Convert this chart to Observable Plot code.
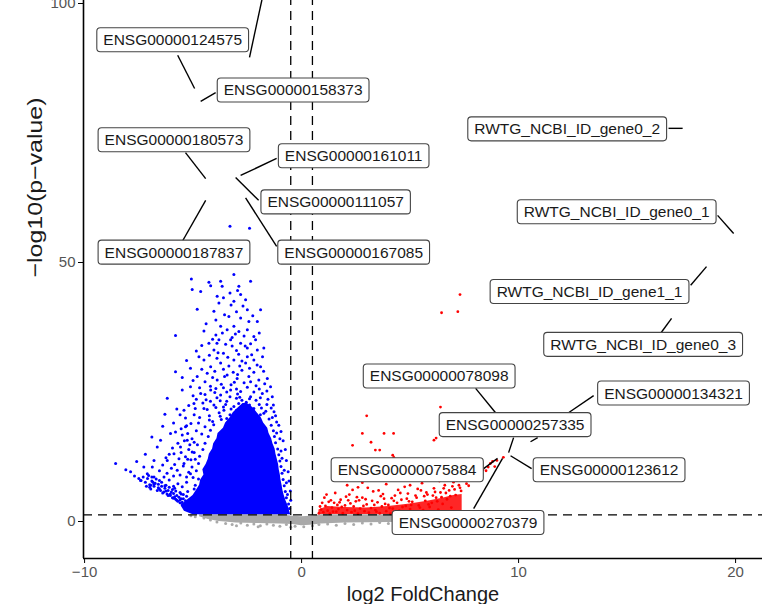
<!DOCTYPE html>
<html><head><meta charset="utf-8">
<script src="https://cdn.jsdelivr.net/npm/d3@7"></script>
<script src="https://cdn.jsdelivr.net/npm/@observablehq/plot@0.6"></script>
<style>body{margin:0;background:#fff;}</style>
</head><body><div id="chart"></div>
<script>
// ---- axes ----
const xDomain = [-10.05, 21.24];
const yDomain = [-7.14, 136.1];
const xTicks = [-10, 0, 10, 20];
const yTicks = [0, 50, 100];
const fcCut = [-0.5, 0.5];
const pCut = [1.3];
const xTitle = "log2 FoldChange";
const yTitle = "\u2212log10(p\u2212value)";

// ---- significant down (blue) points [log2FC, -log10 p] ----
const bluePts = [
[-5.08,46.8],[-5.04,44.8],[-4.65,44.4],[-4.27,46.2],[-4.19,45.5],[-3.73,46.4],[-3.66,45.4],[-3.12,47.7],[-2.89,45.4],[-2.35,46.4],
[-4.81,41.0],[-3.89,43.5],[-3.30,44.1],[-3.81,42.2],[-3.12,42.5],[-2.81,43.8],[-2.58,42.8],[-2.50,40.9],[-4.04,40.6],[-3.35,39.6],
[-2.81,39.3],[-2.43,38.6],[-2.04,38.6],[-1.89,40.9],[-3.73,37.7],[-3.43,37.0],[-3.12,37.7],[-2.89,36.7],[-2.50,37.0],[-2.20,35.7],
[-2.12,35.1],[-5.81,35.9],[-3.30,57.0],[-2.40,56.6],[-4.29,51.2],[-3.40,51.2],[-3.04,51.5],
[-4.73,31.8],[-4.27,34.4],[-4.04,33.1],[-3.81,35.1],[-3.27,35.1],[-2.81,34.4],[-2.50,33.5],[-2.04,33.1],[-1.74,33.5],[-4.50,31.2],
[-4.19,29.9],[-3.73,30.6],[-3.12,31.2],[-2.58,30.6],[-2.20,31.2],[-1.89,29.9],[-5.12,29.6],[-4.81,28.0],[-4.35,28.6],[-3.89,27.3],
[-3.43,28.3],[-2.97,27.6],[-2.43,28.0],[-1.97,27.3],[-1.58,27.6],[-5.81,28.9],[-1.43,26.0],
[-3.6,32.5],[-3.0,33.0],[-2.3,32.2],[-3.9,31.5],[-3.35,30.0],[-2.75,29.2],[-2.2,28.8],[-4.0,29.0],[-3.15,28.8],[-3.6,29.4],
[-2.5,31.8],[-4.45,27.0],[-3.7,26.5],[-2.65,26.8],[-2.1,26.2],[-3.25,26.4],[-4.2,26.1],[-1.75,29.0],[-2.9,32.3],[-4.6,34.0],
[-3.5,34.2],[-2.65,35.8],[-3.95,36.0],[-3.2,35.5],
[-4.4,38.2],[-3.95,38.9],[-3.55,39.9],[-3.0,40.5],[-2.7,41.6],[-2.25,39.7],[-3.25,41.8],[-3.6,43.2],[-2.95,44.6],[-4.5,36.8],
[-4.1,35.2],[-3.65,36.4],[-3.05,36.2],[-2.35,34.3],[-1.95,36.4],[-1.8,31.8],[-2.05,30.2],[-2.4,29.6],[-2.85,30.0],[-3.4,31.7],
[-3.85,32.6],[-4.25,32.1],[-4.6,29.4],[-4.1,27.8],[-3.55,28.0],[-2.95,28.4],[-2.35,27.0],[-1.6,25.2],[-1.7,26.6],[-2.75,31.0],
[-3.2,33.9],[-2.6,33.9],[-3.9,34.4],[-4.85,32.9],[-5.3,31.1],[-5.0,27.2],[-5.5,27.8],[-4.7,25.8],
[-5.50,25.4],[-5.12,26.0],[-4.65,24.7],[-4.19,25.4],[-3.73,24.4],[-3.27,25.4],[-2.81,25.1],[-2.35,24.1],[-1.81,24.7],[-1.35,24.1],
[-6.19,23.8],[-5.42,21.5],[-4.96,22.8],[-4.50,21.8],[-4.04,22.5],[-3.58,21.5],[-3.12,22.2],[-2.66,21.2],[-2.20,21.8],[-1.74,20.9],
[-1.27,21.2],[-4.4,23.5],[-3.9,23.9],[-3.45,23.2],[-3.0,23.8],[-2.55,23.0],[-2.1,23.4],[-1.6,22.6],[-4.25,20.4],[-3.8,21.0],
[-3.3,20.6],[-2.9,20.5],[-2.45,20.2],[-2.0,20.0],[-1.5,19.8],[-4.7,20.1],[-4.85,23.6],[-5.2,22.4],[-3.6,25.8],[-2.95,24.6],
[-2.5,25.9],[-4.0,24.9],[-3.1,26.9],[-1.95,25.6],[-4.55,22.9],[-1.3,22.5],[-1.15,19.2],[-5.6,20.6],[-5.9,19.0],[-5.3,18.5],
[-4.1,19.3],[-3.75,20.3],[-3.45,19.9],[-3.05,19.8],[-2.65,20.5],[-2.25,19.6],[-1.9,20.6],[-1.65,21.3],[-4.35,21.6],[-3.95,22.0],
[-3.6,22.1],[-3.25,21.7],[-2.8,21.9],[-2.4,22.5],[-1.95,22.6],[-4.2,23.2],[-3.75,23.3],[-3.3,24.1],[-2.85,24.0],[-2.4,23.7],
[-1.9,23.9],[-3.95,25.7],[-3.45,25.0],[-3.0,25.6],[-2.2,25.0],[-4.45,24.5],[-5.0,24.3],[-1.55,23.6],[-1.4,21.9],[-1.2,20.4],
[-1.05,18.6],[-0.95,17.4],[-0.85,15.6],[-0.75,13.9],[-0.7,11.8],[-0.62,9.6],[-0.58,7.8],[-0.52,5.9],[-0.5,4.1],
[-8.57,11.2],[-7.88,9.6],[-7.27,10.5],[-6.80,11.8],[-6.50,15.7],[-6.04,17.0],[-5.81,17.3],[-5.50,16.7],[-5.35,18.3],[-6.65,14.4],
[-7.11,9.2],[-6.80,8.6],[-7.42,7.9],[-6.88,10.5],[-6.19,11.8],[-5.88,13.1],[-5.58,14.4],[-5.27,15.7],[-5.04,13.4],[-5.73,9.9],
[-6.34,8.6],[-5.42,11.2],[-5.12,9.2],
[-6.0,10.3],[-5.85,11.0],[-5.65,12.1],[-5.55,13.3],[-5.35,12.5],[-5.2,13.9],[-5.15,14.8],[-5.4,15.6],[-5.7,15.1],[-5.95,14.2],
[-6.1,13.0],[-6.25,12.3],[-6.4,10.9],[-6.55,9.8],[-6.2,9.3],[-5.9,8.8],[-5.6,9.0],[-5.3,8.6],[-5.05,10.5],[-5.25,12.0],
[-4.95,15.3],[-5.25,17.0],[-5.55,17.9],[-5.1,18.9],[-4.85,17.5],[-4.75,19.0],[-4.95,20.6],[-5.35,20.0],[-5.75,21.7],[-6.4,18.4],
[-6.9,16.3],[-7.2,13.0],[-7.6,11.6],[-8.1,10.0],[-6.3,20.7],[-4.9,21.8],
[-7.4,7.9],[-7.2,7.6],[-7.1,8.3],[-7.0,7.1],[-6.9,7.8],[-6.8,6.8],[-6.75,7.4],[-6.6,6.5],[-6.6,7.2],[-6.5,6.0],
[-6.45,6.8],[-6.35,5.7],[-6.3,6.4],[-6.2,5.3],[-6.15,6.0],[-6.05,5.0],[-6.0,5.7],[-5.95,4.6],[-5.9,5.4],[-5.8,4.3],
[-5.75,5.0],[-5.7,3.9],[-5.65,4.7],[-5.6,3.6],[-5.55,4.4],[-5.5,3.3],[-5.45,5.2],[-5.4,3.0],[-5.35,4.0],[-5.3,2.7],
[-5.25,5.8],[-5.2,2.5],[-5.15,3.7],[-5.1,2.2],[-5.05,4.5],[-5.0,2.0],[-4.95,6.3],[-4.9,1.8],[-6.9,8.6],[-6.55,7.9],
[-6.25,7.0],[-5.85,6.4],[-5.5,6.7],[-6.1,8.0],[-5.7,7.3],
[-7.3,8.6],[-7.05,8.9],[-6.95,7.0],[-6.7,8.2],[-6.45,7.6],[-6.3,6.9],[-6.1,6.6],[-5.95,6.2],[-5.8,5.9],[-5.6,5.6],
[-5.45,4.4],[-5.3,4.9],[-5.2,3.3],[-5.05,3.0],[-4.95,2.6],[-5.35,3.5],[-5.6,4.2],[-5.85,4.8],[-6.05,5.3],[-6.25,5.9],
[-6.55,6.3],[-6.8,7.2],[-7.0,6.6],[-7.5,8.3],[-7.7,8.8],[-5.15,4.2],[-5.55,5.3],[-5.9,6.8],
[-6.65,6.0],[-6.4,5.5],[-6.15,5.0],[-5.9,4.5],[-5.75,4.1],[-5.5,3.7],[-5.3,3.1],[-7.15,6.8],[-6.95,6.3],[-6.85,7.6],
[-4.9,7.0],[-5.0,8.5],[-4.85,9.8],[-4.75,11.2],[-4.7,12.6],[-4.55,13.9],[-4.45,15.1],[-4.3,16.4],[-4.2,17.6],[-4.05,18.7],
[-5.2,9.5],[-5.1,11.9],[-4.95,13.3],[-4.8,14.8],[-4.6,16.9],[-4.45,18.3],[-4.25,19.6],[-5.3,7.6],[-5.45,10.7],[-5.05,16.0],
[-4.75,8.2],[-4.9,12.0],
[-0.55,2.5],[-0.6,3.4],[-0.7,4.6],[-0.75,5.8],[-0.8,6.9],[-0.85,8.1],[-0.9,9.3],[-0.95,10.6],[-1.0,11.7],[-1.05,12.9],
[-1.1,14.0],[-1.2,15.2],[-1.25,16.4],[-1.3,17.5],[-1.4,18.6],[-0.65,5.2],[-0.8,9.9],[-0.95,13.6],[-1.15,17.1],[-1.35,20.1],
[-1.0,16.0],[-0.9,12.2],[-0.7,7.5],
[-3.2,19.0],[-2.8,19.3],[-2.4,18.9],[-2.0,19.1],[-3.0,21.5],[-2.6,22.1],[-2.2,21.3],[-3.5,22.6],[-2.75,23.4],[-3.15,20.3],
[-2.35,20.8],[-1.85,21.9],[-3.7,19.7],[-2.9,22.8]
];
// saturated core of the blue cloud: [-log10 p, left log2FC, right log2FC]
const blueCore = [
[1.3,-5.0,-0.5],[2.0,-5.4,-0.55],[3.0,-5.55,-0.62],[4.0,-5.3,-0.72],[5.0,-5.0,-0.8],[6.0,-4.85,-0.86],[7.0,-4.7,-0.9],
[8.0,-4.65,-0.95],[9.0,-4.5,-0.98],[10.0,-4.55,-1.03],[11.0,-4.4,-1.06],[12.0,-4.3,-1.12],[13.0,-4.25,-1.18],[14.0,-4.1,-1.22],
[15.0,-4.05,-1.32],[16.0,-3.9,-1.38],[17.0,-3.85,-1.5],[18.0,-3.6,-1.56],[19.0,-3.5,-1.75],[20.0,-3.3,-1.85],[21.0,-3.15,-2.05],
[22.0,-2.9,-2.25],[22.8,-2.7,-2.5]
];

// ---- significant up (red) points ----
const redPts = [
[0.8,1.6],[0.9,2.3],[1.0,1.8],[1.1,3.0],[1.2,2.1],[1.3,1.5],[1.4,2.7],[1.5,3.6],[1.6,1.9],[1.7,2.4],
[1.8,4.2],[1.9,1.6],[2.0,3.1],[2.1,2.2],[2.2,5.2],[2.3,1.8],[2.4,2.9],[2.5,3.9],[2.6,1.5],[2.7,2.5],
[2.8,4.6],[2.9,2.0],[3.0,3.3],[3.1,1.7],[3.2,2.6],[3.3,5.8],[3.4,2.2],[3.5,3.7],[3.6,1.6],[3.7,2.9],
[3.8,4.4],[3.9,2.0],[4.0,3.2],[4.1,1.5],[4.2,2.5],[4.3,5.0],[4.4,3.6],[4.5,2.1],[4.6,4.2],[4.7,1.7],
[4.8,3.0],[4.9,5.4],[5.0,2.4],[5.1,3.8],[5.2,1.9],[5.3,4.6],[5.4,3.1],[5.5,6.0],[5.6,2.2],[5.7,4.0],
[5.8,5.2],[5.9,2.8],[6.0,3.6],[6.1,6.4],[6.2,4.6],[6.3,2.3],[6.4,5.6],[6.5,3.4],[6.6,7.0],[6.7,4.3],
[6.8,6.0],[6.9,2.7],[7.0,7.6],[7.1,5.1],[7.2,8.3],[7.3,6.5],[7.5,9.0],[7.6,7.3],[7.8,9.6],[8.0,8.4],
[8.2,10.4],[8.5,9.8],[8.7,11.2],[9.0,11.8],[8.9,10.6],[9.3,12.4],
[0.85,2.9],[1.05,4.6],[1.25,3.8],[1.45,1.9],[1.65,3.2],[1.85,2.8],[2.05,4.8],[2.25,3.5],[2.45,2.1],[2.65,4.1],
[2.85,3.0],[3.05,6.5],[3.25,4.0],[3.45,1.9],[3.65,4.9],[3.85,3.4],[4.05,2.6],[4.25,4.0],[4.45,6.1],[4.65,2.8],
[4.85,4.4],[5.05,3.2],[5.25,5.0],[5.45,2.7],[5.65,4.9],[5.85,3.3],[6.05,5.0],[6.25,3.9],[6.45,4.7],[6.65,5.5],
[6.85,4.9],[7.05,6.2],[7.25,7.0],[7.4,8.0],[1.55,5.5],[2.35,6.1],[3.9,7.2],[5.0,7.0],[6.0,8.2],[2.8,7.5],[4.6,8.6],
[0.95,3.6],[1.35,4.1],[1.75,3.7],[2.15,4.1],[2.55,4.7],[2.95,4.3],[3.35,3.2],[3.75,5.3],[4.15,4.5],[4.55,5.5],
[4.95,3.9],[5.35,6.3],[5.75,5.6],[6.15,5.7],[6.55,6.4],[6.95,6.8],[7.15,7.9],[7.35,5.9],[7.55,8.4],[7.7,6.9],
[7.9,8.8],[8.1,9.4],[8.35,10.0],[8.6,10.5],[8.8,11.6],[1.15,5.2],[2.6,6.6],[3.55,6.0],[4.75,6.7],[5.55,7.4],
[6.35,7.8],[2.1,7.0],
[3.0,20.4],[2.8,17.0],[3.8,17.0],[3.2,15.3],[2.35,14.7],[3.6,13.8],[3.4,13.8],[4.2,12.8],[6.1,15.7],[6.4,22.1],
[7.3,43.8],[6.45,40.3],[7.2,40.5],[4.24,17.0],[6.5,11.8],[6.2,16.1],[4.25,12.4]
];
// dense lower strip of the red cloud: [log2FC, low, high]
const redCore = [
[0.8,1.35,2.2],[1.2,1.35,2.9],[2.0,1.35,2.7],[3.0,1.35,2.6],[4.0,1.35,2.9],[5.0,1.35,3.4],[5.8,1.35,3.9],[6.5,1.35,4.5],[7.0,1.35,5.0],[7.4,1.35,5.2]
];

// ---- not significant (grey) ----
const greyPts = [
[-4.5,0.7],[-4.2,0.3],[-3.9,-0.1],[-3.5,-0.4],[-3.2,-0.6],[-2.8,-0.3],[-2.5,-0.7],[-2.2,-0.5],[-1.9,-0.8],[-1.6,-0.5],
[-1.3,-0.7],[-1.0,-0.9],[-0.7,-0.6],[-0.3,-0.9],[0.1,-1.0],[0.5,-0.8],[0.8,-0.6],[1.2,-0.5],[1.6,-0.7],[2.0,-0.4],
[2.4,-0.6],[2.8,-0.3],[3.2,-0.5],[3.6,-0.2],[4.0,-0.4],[-5.1,1.1],[-4.9,0.9],[-3.0,-0.8],[-2.0,-1.0],[-0.5,-1.1]
];
const greyBand = [
[-4.7,0.9,1.3],[-4.3,0.4,1.3],[-3.8,0.0,1.3],[-3.0,-0.3,1.3],[-2.0,-0.4,1.3],[-1.0,-0.5,1.3],[-0.4,-0.6,1.0],
[0.0,-0.8,0.9],[0.4,-0.7,1.0],[0.9,-0.5,1.3],[2.0,-0.3,1.3],[3.0,-0.25,1.3],[4.0,-0.2,1.3],[5.0,-0.1,1.3],[6.5,0.2,1.3],[7.5,0.6,1.3]
];

// ---- labelled genes ----
const labelText = ["ENSG00000124575","ENSG00000158373","ENSG00000180573","ENSG00000161011","ENSG00000111057","ENSG00000187837","ENSG00000167085",
"RWTG_NCBI_ID_gene0_2","RWTG_NCBI_ID_gene0_1","RWTG_NCBI_ID_gene1_1","RWTG_NCBI_ID_gene0_3",
"ENSG00000078098","ENSG00000134321","ENSG00000257335","ENSG00000123612","ENSG00000075884","ENSG00000270379"];
const labelX = [-5.94,-0.39,-5.88,2.40,1.57,-5.88,2.40,12.24,14.52,13.27,15.74,6.34,17.14,9.84,14.17,4.86,7.67];
const labelY = [92.9,83.2,73.6,70.5,61.6,51.9,51.9,75.7,59.7,44.3,34.1,28.0,24.7,18.6,9.9,9.9,-0.3];

// connector segments: label end -> gene point
const segFromX = [-5.71,-3.96,-1.34,-5.35,-1.15,-1.98,-5.48,-1.15,16.91,19.17,17.93,16.54,8.02,13.46,9.77,10.60,8.39,7.93,10.88];
const segFromY = [90.0,82.8,110.2,71.2,70.1,62.0,54.2,53.1,75.9,59.1,45.6,36.3,25.7,24.3,16.2,10.2,10.2,2.5,16.2];
const segToX   = [-4.93,-4.65,-2.40,-4.42,-2.81,-3.04,-4.42,-2.58,17.56,19.91,18.66,17.05,8.94,12.30,9.54,9.63,9.03,9.26,10.55];
const segToY   = [83.6,81.1,89.6,66.2,66.8,66.4,62.0,62.5,75.9,55.6,49.2,39.2,21.0,21.0,13.3,12.7,12.2,12.2,15.4];

const labels = labelText.map((t, i) => ({t, x: labelX[i], y: labelY[i]}));
const segs = segFromX.map((_, i) => ({x1: segFromX[i], y1: segFromY[i], x2: segToX[i], y2: segToY[i]}));

const BLUE = "#0000ff", RED = "#ff0000", GREY = "#a9a9a9";
const FONT = "'Liberation Sans', Arial, Helvetica, sans-serif";
const xMid = (xDomain[0] + xDomain[1]) / 2;
const yMid = (yDomain[0] + yDomain[1]) / 2;

const chart = Plot.plot({
  width: 782, height: 604,
  marginLeft: 83, marginRight: 20, marginTop: -184, marginBottom: 46,
  x: {domain: xDomain, label: null},
  y: {domain: yDomain, label: null},
  style: {fontFamily: FONT, background: "white"},
  marks: [
    Plot.areaY(greyBand, {x: d => d[0], y1: d => d[1], y2: d => d[2], fill: GREY}),
    Plot.dot(greyPts, {x: d => d[0], y: d => d[1], r: 1.5, fill: GREY}),
    Plot.areaX(blueCore, {y: d => d[0], x1: d => d[1], x2: d => d[2], fill: BLUE}),
    Plot.areaY(redCore, {x: d => d[0], y1: d => d[1], y2: d => d[2], fill: RED, fillOpacity: 0.85}),
    Plot.dot(bluePts, {x: d => d[0], y: d => d[1], r: 1.5, fill: BLUE}),
    Plot.dot(redPts, {x: d => d[0], y: d => d[1], r: 1.4, fill: RED}),
    Plot.ruleX(fcCut, {stroke: "black", strokeWidth: 1.3, strokeDasharray: "9,6"}),
    Plot.ruleY(pCut, {stroke: "black", strokeWidth: 1.3, strokeDasharray: "9,6"}),
    Plot.ruleX([xDomain[0]], {stroke: "black", strokeWidth: 1.6}),
    Plot.ruleY([yDomain[0]], {stroke: "black", strokeWidth: 1.6}),
    Plot.axisX(xTicks, {tickSize: 5, tickPadding: 3, fontSize: 15, stroke: "black", fill: "#555", label: null}),
    Plot.axisY(yTicks, {tickSize: 5, tickPadding: 3, fontSize: 15, stroke: "black", fill: "#555", label: null}),
    Plot.link(segs, {x1: "x1", y1: "y1", x2: "x2", y2: "y2", stroke: "black", strokeWidth: 1.4}),
    Plot.text(labels, {x: "x", y: "y", text: "t", fontSize: 15.5, fill: "#1a1a1a"}),
    Plot.text([xTitle], {x: () => xMid, y: () => yDomain[0], dy: 36, fontSize: 20, fill: "#1a1a1a"}),
    Plot.text([yTitle], {x: () => xDomain[0], y: () => yMid, dx: -48, rotate: -90, fontSize: 21, fill: "#1a1a1a"})
  ]
});
document.getElementById("chart").appendChild(chart);

// rounded label boxes behind each gene label; stretch y title like the reference
const labelSet = new Set(labelText);
chart.querySelectorAll("text").forEach(t => {
  if (t.textContent === yTitle) {
    t.setAttribute("textLength", 180);
    t.setAttribute("lengthAdjust", "spacingAndGlyphs");
    return;
  }
  if (!labelSet.has(t.textContent)) return;
  const bb = t.getBBox();
  const r = document.createElementNS("http://www.w3.org/2000/svg", "rect");
  r.setAttribute("x", bb.x - 6.5);
  r.setAttribute("y", bb.y + bb.height / 2 - 12);
  r.setAttribute("width", bb.width + 13);
  r.setAttribute("height", 24);
  r.setAttribute("rx", 3.5);
  r.setAttribute("fill", "white");
  r.setAttribute("stroke", "#444");
  r.setAttribute("stroke-width", 1.1);
  const tr = t.getAttribute("transform");
  if (tr) r.setAttribute("transform", tr);
  t.parentNode.insertBefore(r, t);
});
</script>
</body></html>
